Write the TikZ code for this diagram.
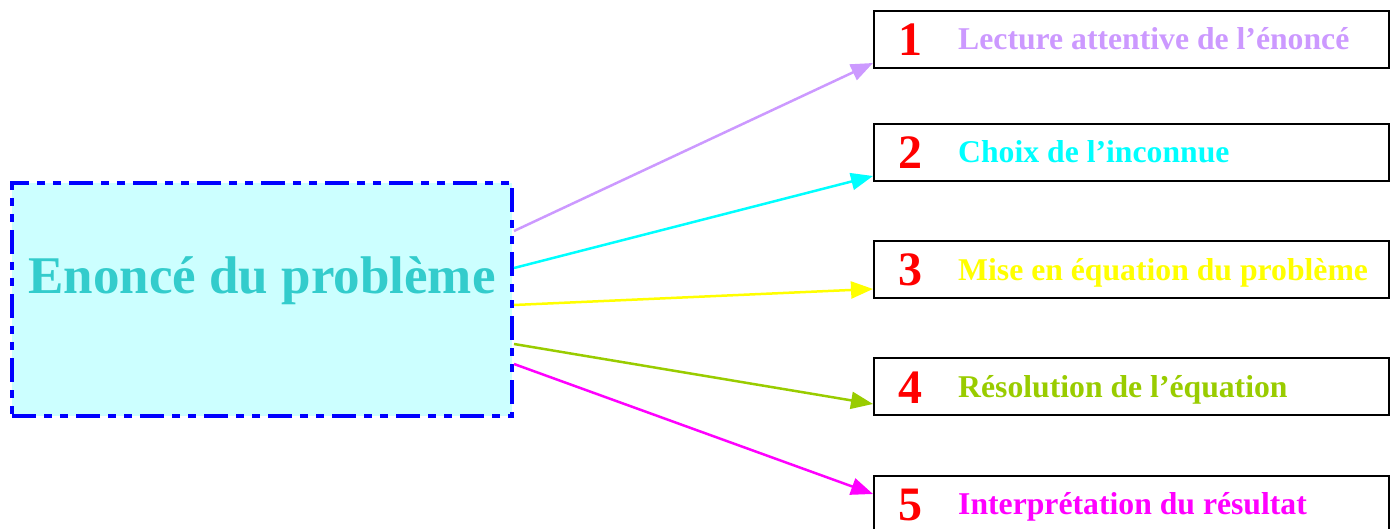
\documentclass[tikz,border=0pt]{standalone}
\usepackage{fontspec}
\setmainfont{Liberation Serif}
\usetikzlibrary{arrows.meta}
\definecolor{lav}{HTML}{CC99FF}
\definecolor{cyn}{HTML}{00FFFF}
\definecolor{yel}{HTML}{FFFF00}
\definecolor{oli}{HTML}{99CC00}
\definecolor{mag}{HTML}{FF00FF}
\definecolor{titlec}{HTML}{33CCCC}
\definecolor{probfill}{HTML}{CCFFFF}
\begin{document}
\begin{tikzpicture}[x=1pt,y=-1pt]
\tikzstyle{every node}+=[inner sep=0pt]
\tikzstyle{prob box}=[draw=blue, fill=probfill, line width=4pt, minimum width=500pt, minimum height=233pt, dash pattern=on 24pt off 8pt on 8pt off 8pt on 8pt off 8pt]
\tikzstyle{step box}=[draw=black, line width=2pt, minimum width=515pt, minimum height=57pt, anchor=north west]
\tikzstyle{num}=[anchor=base, text=red, font=\fontsize{48}{56}\selectfont\bfseries]
\tikzstyle{lbl}=[anchor=base west, font=\fontsize{31.7}{38}\selectfont\bfseries]
\tikzstyle{arr}=[line width=2.5pt, -{Triangle[length=22pt,width=17pt]}]
\useasboundingbox (0,0) rectangle (1397,529);
\clip (0,0) rectangle (1397,529);
% problem box
\node [prob box] (prob) at (262,299.5) {};
\node [anchor=base, text=titlec, font=\fontsize{53}{63}\selectfont\bfseries] (probtxt) at (262,294) {Enoncé du problème};
% steps
\node [step box] (b1) at (873,10) {};
\node [num] (n1) at (910,56) {1};
\node [lbl, text=lav] (t1) at (958,50) {Lecture attentive de l’énoncé};
\node [step box] (b2) at (873,123) {};
\node [num] (n2) at (910,169) {2};
\node [lbl, text=cyn] (t2) at (958,163) {Choix de l’inconnue};
\node [step box] (b3) at (873,240) {};
\node [num] (n3) at (910,286) {3};
\node [lbl, text=yel] (t3) at (958,280) {Mise en équation du problème};
\node [step box] (b4) at (873,357) {};
\node [num] (n4) at (910,403) {4};
\node [lbl, text=oli] (t4) at (958,397) {Résolution de l’équation};
\node [step box] (b5) at (873,475) {};
\node [num] (n5) at (910,520) {5};
\node [lbl, text=mag] (t5) at (958,514) {Interprétation du résultat};
% arrows
\draw [arr, lav] ([yshift=-50pt]prob.north east) -- ([yshift=6pt]b1.south west);
\draw [arr, cyn] ([yshift=-87pt]prob.north east) -- ([yshift=6pt]b2.south west);
\draw [arr, yel] ([yshift=-124pt]prob.north east) -- ([yshift=10pt]b3.south west);
\draw [arr, oli] ([yshift=-163pt]prob.north east) -- ([yshift=12pt]b4.south west);
\draw [arr, mag] ([yshift=-183pt]prob.north east) -- ([yshift=-19pt]b5.north west);
\end{tikzpicture}
\end{document}
